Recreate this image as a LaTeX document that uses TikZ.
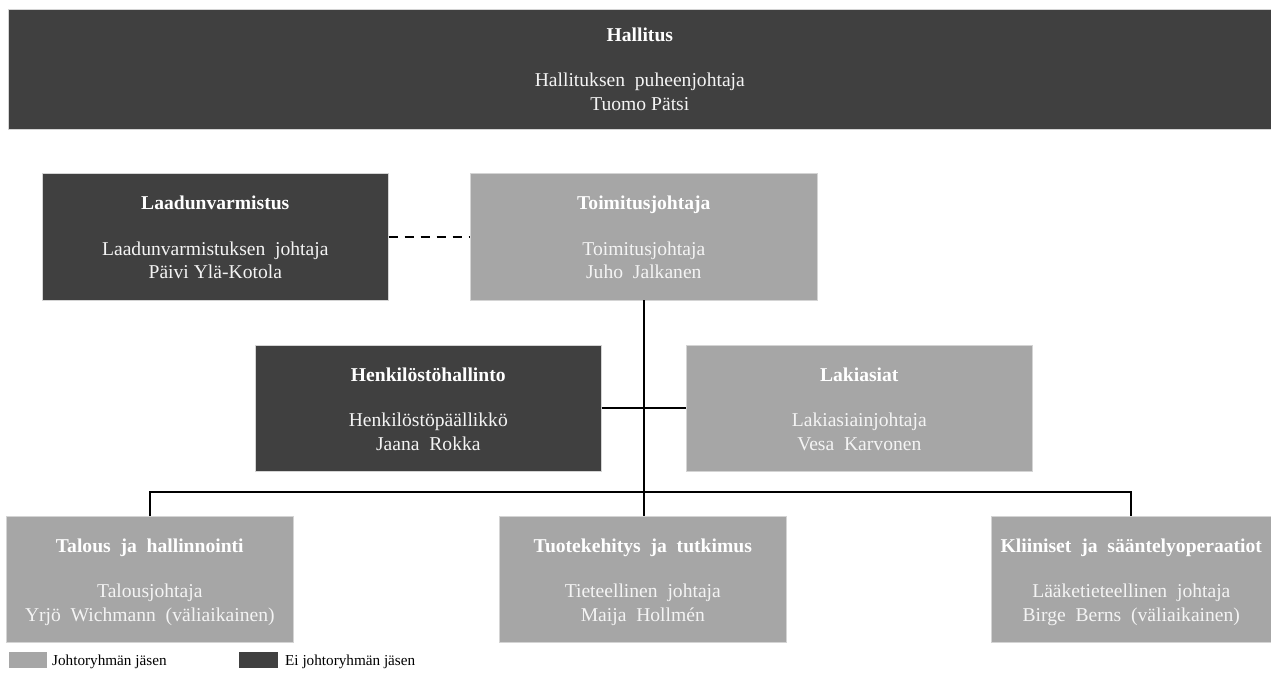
\documentclass[tikz,border=0pt]{standalone}
\usepackage{fontspec}
\setmainfont{Liberation Serif}
\usetikzlibrary{calc}
\definecolor{darkbox}{HTML}{404040}
\definecolor{lightbox}{HTML}{A6A6A6}
\definecolor{boxedge}{HTML}{D4D4D4}
\definecolor{lighttext}{HTML}{F4F4F4}
\tikzset{
  darkfill/.style={rectangle, fill=darkbox, draw=boxedge, line width=0.6pt, inner sep=0pt},
  lightfill/.style={rectangle, fill=lightbox, draw=boxedge, line width=0.6pt, inner sep=0pt},
  headtxt/.style={anchor=base, inner sep=0pt, text=white, font=\fontsize{19.6}{23}\selectfont\bfseries},
  bodytxt/.style={anchor=base, inner sep=0pt, text=lighttext, font=\fontsize{19.6}{23}\selectfont},
  legtxt/.style={anchor=base west, inner sep=0pt, text=black, font=\fontsize{15.2}{18}\selectfont},
  conn/.style={draw=black, line width=1.8pt},
  dashconn/.style={draw=black, line width=1.8pt, dash pattern=on 9pt off 7pt},
}
% name, style, x, y, width, heading, line1, line2
\newcommand\orgunit[8]{%
  \node[#2, anchor=north west, minimum width=#5, minimum height=126pt] (#1) at (#3,#4) {};
  \node[headtxt] (#1-h) at ($(#1.north)+(0,-36)$) {#6};
  \node[bodytxt] (#1-a) at ($(#1.north)+(0,-81.5)$) {#7};
  \node[bodytxt] (#1-b) at ($(#1.north)+(0,-105)$) {#8};
}
\begin{document}
\begin{tikzpicture}[x=1pt,y=1pt]
\useasboundingbox (0,0) rectangle (1271,-695);
\fill[white] (0,0) rectangle (1271,-695);
% top board
\node[darkfill, anchor=north west, minimum width=1263pt, minimum height=119.5pt] (hall) at (8,-9.5) {};
\node[headtxt] (hall-h) at ($(hall.north)+(0,-32)$) {Hallitus};
\node[bodytxt] (hall-a) at ($(hall.north)+(0,-77)$) {Hallituksen\ \ puheenjohtaja};
\node[bodytxt] (hall-b) at ($(hall.north)+(0,-101)$) {Tuomo Pätsi};
% units
\orgunit{laadun}{darkfill}{42}{-173.5}{346pt}{Laadunvarmistus}{Laadunvarmistuksen\ \ johtaja}{Päivi Ylä-Kotola}
\orgunit{toim}{lightfill}{470}{-173.5}{347pt}{Toimitusjohtaja}{Toimitusjohtaja}{Juho\ \ Jalkanen}
\orgunit{henk}{darkfill}{255}{-345}{346pt}{Henkilöstöhallinto}{Henkilöstöpäällikkö}{Jaana\ \ Rokka}
\orgunit{laki}{lightfill}{686}{-345}{346pt}{Lakiasiat}{Lakiasiainjohtaja}{Vesa\ \ Karvonen}
\orgunit{talous}{lightfill}{6}{-516}{287pt}{Talous\ \ ja\ \ hallinnointi}{Talousjohtaja}{Yrjö\ \ Wichmann\ \ (väliaikainen)}
\orgunit{tuote}{lightfill}{499}{-516}{287pt}{Tuotekehitys\ \ ja\ \ tutkimus}{Tieteellinen\ \ johtaja}{Maija\ \ Hollmén}
\orgunit{kliin}{lightfill}{991}{-516}{280pt}{Kliiniset\ \ ja\ \ sääntelyoperaatiot}{Lääketieteellinen\ \ johtaja}{Birge\ \ Berns\ \ (väliaikainen)}
% connectors
\draw[dashconn] (laadun.east) -- (toim.west);
\draw[conn] (toim.south) -- (toim.south |- tuote.north);
\draw[conn] (henk.east) -- (laki.west);
\coordinate (busL) at ($(talous.north)+(0,24)$);
\coordinate (busR) at (kliin.north |- busL);
\draw[conn] (talous.north) -- (busL) -- (busR) -- (kliin.north);
% legend
\node[lightfill, draw=none, anchor=north west, minimum width=38pt, minimum height=16pt] (leg1) at (9,-652) {};
\node[legtxt] (leg1t) at (52,-665) {Johtoryhmän jäsen};
\node[darkfill, draw=none, anchor=north west, minimum width=39pt, minimum height=16pt] (leg2) at (239,-652) {};
\node[legtxt] (leg2t) at (285,-665) {Ei johtoryhmän jäsen};
\end{tikzpicture}
\end{document}
